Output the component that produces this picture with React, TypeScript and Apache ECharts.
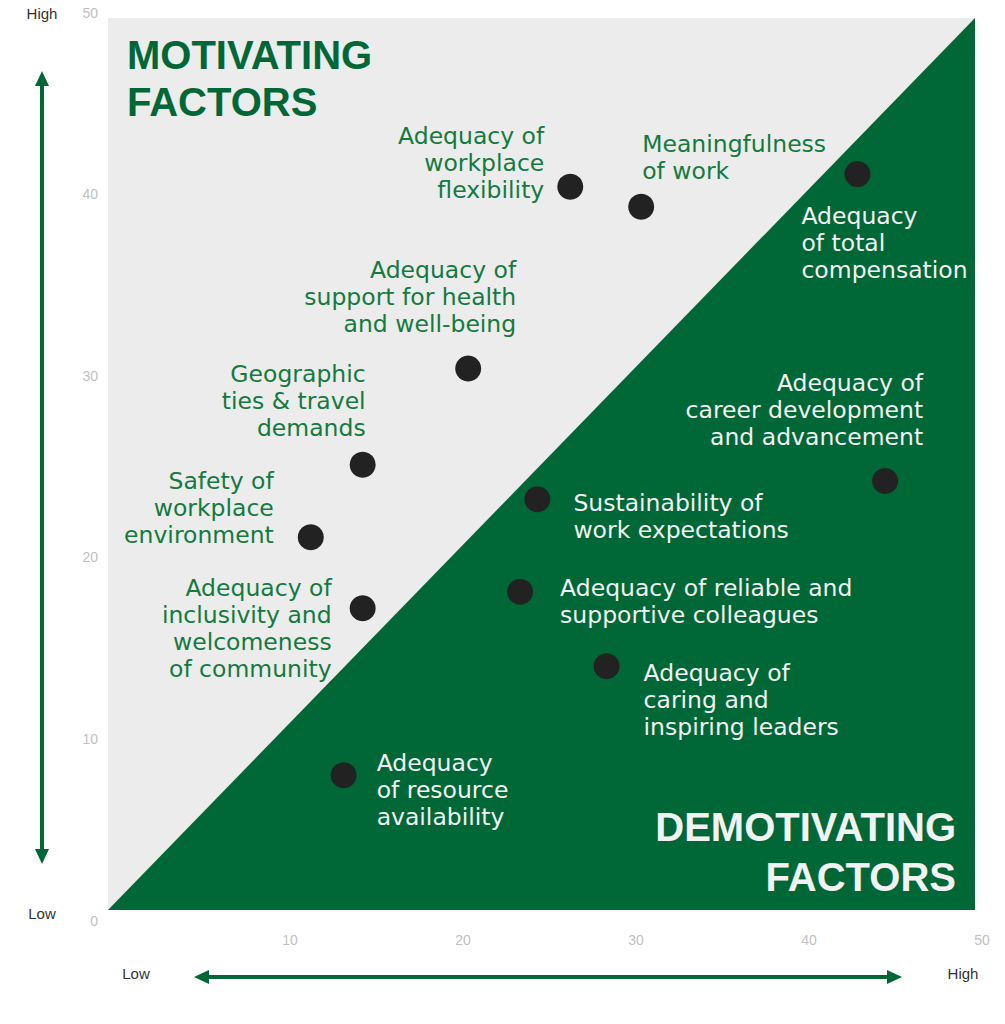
import { useEffect, useRef } from 'react';
import * as echarts from 'echarts';

// factor names (label text), and their positions on the two scales
const factors = [
  'Adequacy of\nworkplace\nflexibility',
  'Meaningfulness\nof work',
  'Adequacy\nof total\ncompensation',
  'Adequacy of\nsupport for health\nand well-being',
  'Geographic\nties & travel\ndemands',
  'Safety of\nworkplace\nenvironment',
  'Adequacy of\ninclusivity and\nwelcomeness\nof community',
  'Adequacy\nof resource\navailability',
  'Sustainability of\nwork expectations',
  'Adequacy of reliable and\nsupportive colleagues',
  'Adequacy of\ncaring and\ninspiring leaders',
  'Adequacy of\ncareer development\nand advancement',
];
const xValues = [26.2, 30.3, 42.8, 20.3, 14.2, 11.2, 14.2, 13.1, 24.3, 23.3, 28.3, 44.4];
const yValues = [40.4, 39.3, 41.1, 30.4, 25.1, 21.1, 17.2, 8.0, 23.2, 18.1, 14.0, 24.2];
const onDarkSide = [false, false, true, false, false, false, false, true, true, true, true, true];

// label placement relative to each dot: [dx, dy, align]
const labelPlace: [number, number, 'left' | 'right'][] = [
  [-26, -24, 'right'],
  [1, -49, 'left'],
  [-56, 69, 'left'],
  [48, -71, 'right'],
  [3, -64, 'right'],
  [-37, -29, 'right'],
  [-31, 20, 'right'],
  [33, 15, 'left'],
  [36, 17, 'left'],
  [40, 10, 'left'],
  [37, 34, 'left'],
  [38, -71, 'right'],
];

const GREEN = '#006837';
const TEXT_GREEN = '#137a40';
const DOT = 26;

export default function App() {
  const ref = useRef<HTMLDivElement>(null);

  useEffect(() => {
    if (!ref.current) return;
    const chart = echarts.init(ref.current, null, { renderer: 'svg' });

    const points = factors.map((name, i) => {
      const [dx, dy, align] = labelPlace[i];
      return {
        name,
        value: [xValues[i], yValues[i]],
        label: {
          show: true,
          formatter: name,
          position: [dx + DOT / 2, dy + DOT / 2],
          align,
          verticalAlign: 'middle',
          color: onDarkSide[i] ? '#f2f2f2' : TEXT_GREEN,
          fontFamily: '"DejaVu Sans"',
          fontSize: 23.5,
          lineHeight: 27,
        },
      };
    });

    const axisLabel = {
      color: '#bfbfbf',
      fontSize: 14,
      fontFamily: '"Liberation Sans"',
    };
    const smallText = (text: string, x: number, y: number) => ({
      type: 'text',
      z: 1,
      style: {
        text,
        x,
        y,
        fill: '#333',
        font: '15px "Liberation Sans"',
        textAlign: 'center',
        textVerticalAlign: 'middle',
      },
    });
    const bigText = (text: string, x: number, y: number, fill: string, align: string) => ({
      type: 'text',
      z: 1,
      style: {
        text,
        x,
        y,
        fill,
        font: 'bold 40px "Liberation Sans"',
        textAlign: align,
        textVerticalAlign: 'middle',
      },
    });

    chart.setOption({
      animation: false,
      grid: { left: 117, right: 23, top: 12.5, bottom: 103.5 },
      xAxis: {
        type: 'value',
        min: 0,
        max: 50,
        interval: 10,
        axisLine: { show: false },
        axisTick: { show: false },
        splitLine: { show: false },
        axisLabel: { ...axisLabel, margin: 12, showMinLabel: false },
      },
      yAxis: {
        type: 'value',
        min: 0,
        max: 50,
        interval: 10,
        axisLine: { show: false },
        axisTick: { show: false },
        splitLine: { show: false },
        axisLabel: { ...axisLabel, margin: 19 },
      },
      graphic: {
        elements: [
          {
            type: 'rect',
            z: 0,
            shape: { x: 108, y: 18, width: 867, height: 892 },
            style: { fill: '#ececec' },
          },
          {
            type: 'polygon',
            z: 0,
            shape: { points: [[108, 910], [975, 18], [975, 910]] },
            style: { fill: GREEN },
          },
          bigText('MOTIVATING', 127, 55, GREEN, 'left'),
          bigText('FACTORS', 127, 102, GREEN, 'left'),
          bigText('DEMOTIVATING', 956, 827, '#f2f2f2', 'right'),
          bigText('FACTORS', 956, 877, '#f2f2f2', 'right'),
          // vertical arrow
          {
            type: 'line',
            z: 1,
            shape: { x1: 42, y1: 84, x2: 42, y2: 851 },
            style: { stroke: GREEN, lineWidth: 4 },
          },
          {
            type: 'polygon',
            z: 1,
            shape: { points: [[42, 71], [35, 86], [49, 86]] },
            style: { fill: GREEN },
          },
          {
            type: 'polygon',
            z: 1,
            shape: { points: [[42, 864], [35, 849], [49, 849]] },
            style: { fill: GREEN },
          },
          // horizontal arrow
          {
            type: 'line',
            z: 1,
            shape: { x1: 206, y1: 977, x2: 890, y2: 977 },
            style: { stroke: GREEN, lineWidth: 4 },
          },
          {
            type: 'polygon',
            z: 1,
            shape: { points: [[194, 977], [209, 970], [209, 984]] },
            style: { fill: GREEN },
          },
          {
            type: 'polygon',
            z: 1,
            shape: { points: [[902, 977], [887, 970], [887, 984]] },
            style: { fill: GREEN },
          },
          smallText('High', 42, 13),
          smallText('Low', 42, 913),
          smallText('Low', 136, 973),
          smallText('High', 963, 973),
        ],
      },
      series: [
        {
          type: 'scatter',
          z: 5,
          symbol: 'circle',
          symbolSize: DOT,
          itemStyle: { color: '#222222', opacity: 1 },
          emphasis: { disabled: true },
          data: points,
        },
      ],
    });

    return () => {
      chart.dispose();
    };
  }, []);

  return (
    <div
      ref={ref}
      style={{ position: 'absolute', left: 0, top: 0, width: 1005, height: 1024 }}
    />
  );
}
